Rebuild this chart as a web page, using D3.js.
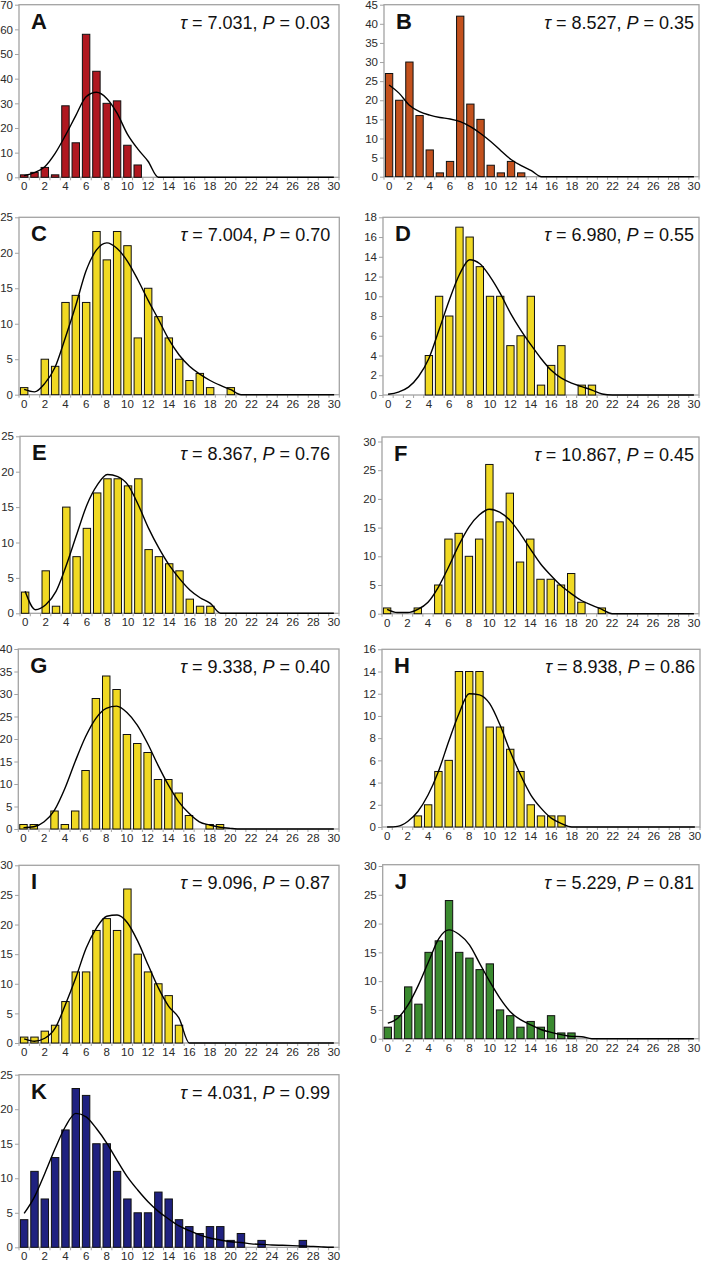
<!DOCTYPE html>
<html><head><meta charset="utf-8">
<script src="https://cdn.jsdelivr.net/npm/d3@7"></script>
<style>
body{margin:0;background:#fff}
svg{display:block}
text{font-family:"Liberation Sans",Arial,Helvetica,sans-serif}
</style>
</head><body>
<svg id="chart" width="703" height="1263"></svg>
<script>
// ---------- data ----------
const categories = [0,1,2,3,4,5,6,7,8,9,10,11,12,13,14,15,16,17,18,19,20,21,22,23,24,25,26,27,28,29,30];
const xTickLabels = [0,2,4,6,8,10,12,14,16,18,20,22,24,26,28,30];

const panelIds = ["A","B","C","D","E","F","G","H","I","J","K"];
const tauValues = ["7.031","8.527","7.004","6.980","8.367","10.867","9.338","8.938","9.096","5.229","4.031"];
const pValues   = ["0.03","0.35","0.70","0.55","0.76","0.45","0.40","0.86","0.87","0.81","0.99"];

const yTicksA = [0,10,20,30,40,50,60,70];
const yTicksB = [0,5,10,15,20,25,30,35,40,45];
const yTicksC = [0,5,10,15,20,25];
const yTicksD = [0,2,4,6,8,10,12,14,16,18];
const yTicksE = [0,5,10,15,20,25];
const yTicksF = [0,5,10,15,20,25,30];
const yTicksG = [0,5,10,15,20,25,30,35,40];
const yTicksH = [0,2,4,6,8,10,12,14,16];
const yTicksI = [0,5,10,15,20,25,30];
const yTicksJ = [0,5,10,15,20,25,30];
const yTicksK = [0,5,10,15,20,25];

const countsA = [1,2,4,1,29,14,58,43,30,31,13,5,0,0,0,0,0,0,0,0,0,0,0,0,0,0,0,0,0,0,0];
const curveA  = [0.7,1.9,4.3,9.7,17,25,32.7,34.5,32,26,17.5,11.5,6.5,0,0,0,0,0,0,0,0,0,0,0,0,0,0,0,0,0,0];

const countsB = [27,20,30,16,7,1,4,42,19,15,3,1,4,1,0,0,0,0,0,0,0,0,0,0,0,0,0,0,0,0,0];
const curveB  = [24,21.8,18.7,17,16.1,15.5,15.1,14.4,13.1,11.3,9.2,6.8,4.5,2.9,1.6,0,0,0,0,0,0,0,0,0,0,0,0,0,0,0,0];

const countsC = [1,0,5,4,13,14,13,23,19,23,21,8,15,11,8,5,2,3,1,0,1,0,0,0,0,0,0,0,0,0,0];
const curveC  = [0.75,0.4,1.6,3.9,8.1,12.6,17.5,20.4,21.4,20.6,18.8,16.2,13.3,10.6,7.8,5.6,4.0,2.9,2.0,1.3,0.7,0,0,0,0,0,0,0,0,0,0];

const countsD = [0,0,0,0,4,10,8,17,16,13,10,10,5,6,10,1,3,5,0,1,1,0,0,0,0,0,0,0,0,0,0];
const curveD  = [0.07,0.3,0.8,1.9,3.7,6.6,9.6,12.2,13.7,13.3,12,10.3,8.3,6.6,5.1,3.7,2.5,1.7,1.2,0.85,0.5,0.1,0,0,0,0,0,0,0,0,0];

const countsE = [3,0,6,1,15,8,12,17,19,19,18,19,9,8,7,6,2,1,1,0,0,0,0,0,0,0,0,0,0,0,0];
const curveE  = [3.1,0.5,1.2,3.1,6.8,11.1,15.3,18.1,19.6,19.3,18.1,15.3,12,9.2,6.8,4.9,3.3,2.2,1.4,0,0,0,0,0,0,0,0,0,0,0,0];

const countsF = [1,0,0,1,0,5,13,14,10,13,26,16,21,9,13,6,6,5,7,2,0,1,0,0,0,0,0,0,0,0,0];
const curveF  = [0.75,0.2,0.2,0.75,2,4.6,8.1,11.9,15.1,17.2,18.2,17.7,16.3,14,11.3,8.7,6.7,4.9,3.5,2.3,1.5,0.75,0,0,0,0,0,0,0,0,0];

const countsG = [1,1,0,4,1,4,13,29,34,31,21,19,17,11,11,8,3,0,1,1,0,0,0,0,0,0,0,0,0,0,0];
const curveG  = [0.3,0.5,1.6,4.2,9,15,20.5,24.6,26.8,27.3,25.9,23.1,19,14.2,9.8,6.1,3.5,1.6,0.9,0.4,0.15,0,0,0,0,0,0,0,0,0,0];

const countsH = [0,0,0,1,2,5,6,14,14,14,9,9,7,5,2,1,1,1,0,0,0,0,0,0,0,0,0,0,0,0,0];
const curveH  = [0,0.06,0.5,1.4,2.9,5,7.7,10.2,12,11.9,11.1,9.2,6.8,4.7,2.9,1.7,0.8,0.3,0,0,0,0,0,0,0,0,0,0,0,0,0];

const countsI = [1,1,2,3,7,12,12,19,21,19,26,15,12,10,8,3,0,0,0,0,0,0,0,0,0,0,0,0,0,0,0];
const curveI  = [0.7,0.3,0.8,2.5,6.5,11,16,19.4,21.4,21.6,20.3,17.2,13.2,9.3,6.2,4.2,0,0,0,0,0,0,0,0,0,0,0,0,0,0,0];

const countsJ = [2,4,9,6,15,17,24,15,14,12,13,5,4,2,3,2,4,1,1,0,0,0,0,0,0,0,0,0,0,0,0];
const curveJ  = [2.7,3.6,5.9,9.3,13.4,17.4,18.9,18.1,16.3,13.1,9.9,7,4.7,3.3,2.4,1.6,1.1,0.7,0.4,0.35,0,0,0,0,0,0,0,0,0,0,0];

const countsK = [4,11,7,13,17,23,22,15,15,11,7,5,5,8,7,4,3,2,3,3,1,2,0,1,0,0,0,1,0,0,0];
const curveK  = [4.9,7.3,10.7,14.3,17.5,19.4,18.9,17.2,15.1,12.6,10.2,8.3,6.6,5.2,4.1,3.1,2.4,1.8,1.35,1.06,0.8,0.7,0.5,0.43,0.34,0.29,0.24,0.19,0.14,0.05,0];

const allCounts = [countsA,countsB,countsC,countsD,countsE,countsF,countsG,countsH,countsI,countsJ,countsK];
const allCurves = [curveA,curveB,curveC,curveD,curveE,curveF,curveG,curveH,curveI,curveJ,curveK];
const allYTicks = [yTicksA,yTicksB,yTicksC,yTicksD,yTicksE,yTicksF,yTicksG,yTicksH,yTicksI,yTicksJ,yTicksK];

// ---------- layout & style ----------
const barColors = ["#b01820","#c3511d","#f0d923","#f0d923","#f0d923","#f0d923","#f0d923","#f0d923","#f0d923","#3a8a2f","#1f2180"];
// [left, top, right, bottom, pixel of top tick]
const frames = [
  [19, 4.7, 339, 177.3, 4.7],
  [384, 4.7, 699, 176.7, 4.7],
  [19, 217.3, 339.3, 394.7, 217.3],
  [383, 217.3, 699, 395, 217.3],
  [20, 436.3, 339, 613.3, 436.3],
  [382, 437, 699, 613.7, 441.5],
  [18.3, 649, 339, 829, 649],
  [382, 649.3, 700, 827, 649.3],
  [19, 865.3, 339, 1043, 865.3],
  [382.7, 864.7, 699, 1038.7, 866],
  [19, 1074.7, 339, 1247.3, 1074.7]
];

const svg = d3.select("#chart");

panelIds.forEach((id, i) => {
  const [L, T, R, B, YT] = frames[i];
  const col = i % 2;
  const counts = allCounts[i], curve = allCurves[i], yTicks = allYTicks[i];
  const yMax = yTicks[yTicks.length - 1];

  const x = d3.scaleBand().domain(categories).range([L, R]).paddingInner(0.28).paddingOuter(0.14);
  const y = d3.scaleLinear().domain([0, yMax]).range([B, YT]);
  const step = x.step();
  const g = svg.append("g");

  // frame
  g.append("rect").attr("x", L).attr("y", T).attr("width", R - L).attr("height", B - T)
    .attr("fill", "none").attr("stroke", "#a3a3a3").attr("stroke-width", 1.3);

  // y axis ticks & labels
  const yAxis = d3.axisLeft(y).tickValues(yTicks).tickSize(4).tickPadding(2).tickFormat(d3.format("d"));
  const ya = g.append("g").attr("transform", `translate(${L},0)`).call(yAxis);
  ya.select(".domain").remove();
  ya.selectAll(".tick line").attr("stroke", "#a3a3a3");
  ya.selectAll(".tick text").attr("fill", "#2a2a2a").style("font-size", "11.5px")
    .style("font-family", "'Liberation Sans',Arial,sans-serif");

  // x axis: ticks at band boundaries, labels at category centres
  const boundaries = categories.map(c => x(c) - (step - x.bandwidth()) / 2).concat([R]);
  g.selectAll(".xt").data(boundaries).enter().append("line")
    .attr("x1", d => d).attr("x2", d => d).attr("y1", B).attr("y2", B + 3)
    .attr("stroke", "#a3a3a3").attr("stroke-width", 1);
  g.selectAll(".xl").data(xTickLabels).enter().append("text")
    .attr("x", d => x(d) + x.bandwidth() / 2).attr("y", B + 13)
    .attr("text-anchor", "middle").attr("fill", "#2a2a2a").style("font-size", "11.5px")
    .text(d => d);

  // bars
  g.selectAll(".bar").data(categories.filter((c, k) => counts[k] > 0)).enter().append("rect")
    .attr("x", c => x(c)).attr("width", x.bandwidth())
    .attr("y", c => y(counts[c])).attr("height", c => B - y(counts[c]))
    .attr("fill", barColors[i]).attr("stroke", "#111").attr("stroke-width", 1);

  // fitted curve
  const line = d3.line().x((v, k) => x(categories[k]) + x.bandwidth() / 2).y(v => y(v)).curve(d3.curveMonotoneX);
  g.append("path").datum(curve).attr("d", line).attr("fill", "none")
    .attr("stroke", "#000").attr("stroke-width", 1.4);

  // panel letter
  g.append("text").attr("x", L + 12).attr("y", T + 24).style("font-size", "22px").style("font-weight", "bold")
    .attr("fill", "#111").text(id);

  // statistics
  const st = g.append("text").attr("x", R - (col === 0 ? 9 : 5)).attr("y", T + 24)
    .attr("text-anchor", "end").style("font-size", "18px").attr("fill", "#111");
  st.append("tspan").style("font-style", "italic").text("τ");
  st.append("tspan").text(` = ${tauValues[i]}, `);
  st.append("tspan").style("font-style", "italic").text("P");
  st.append("tspan").text(` = ${pValues[i]}`);
});
</script>
</body></html>
